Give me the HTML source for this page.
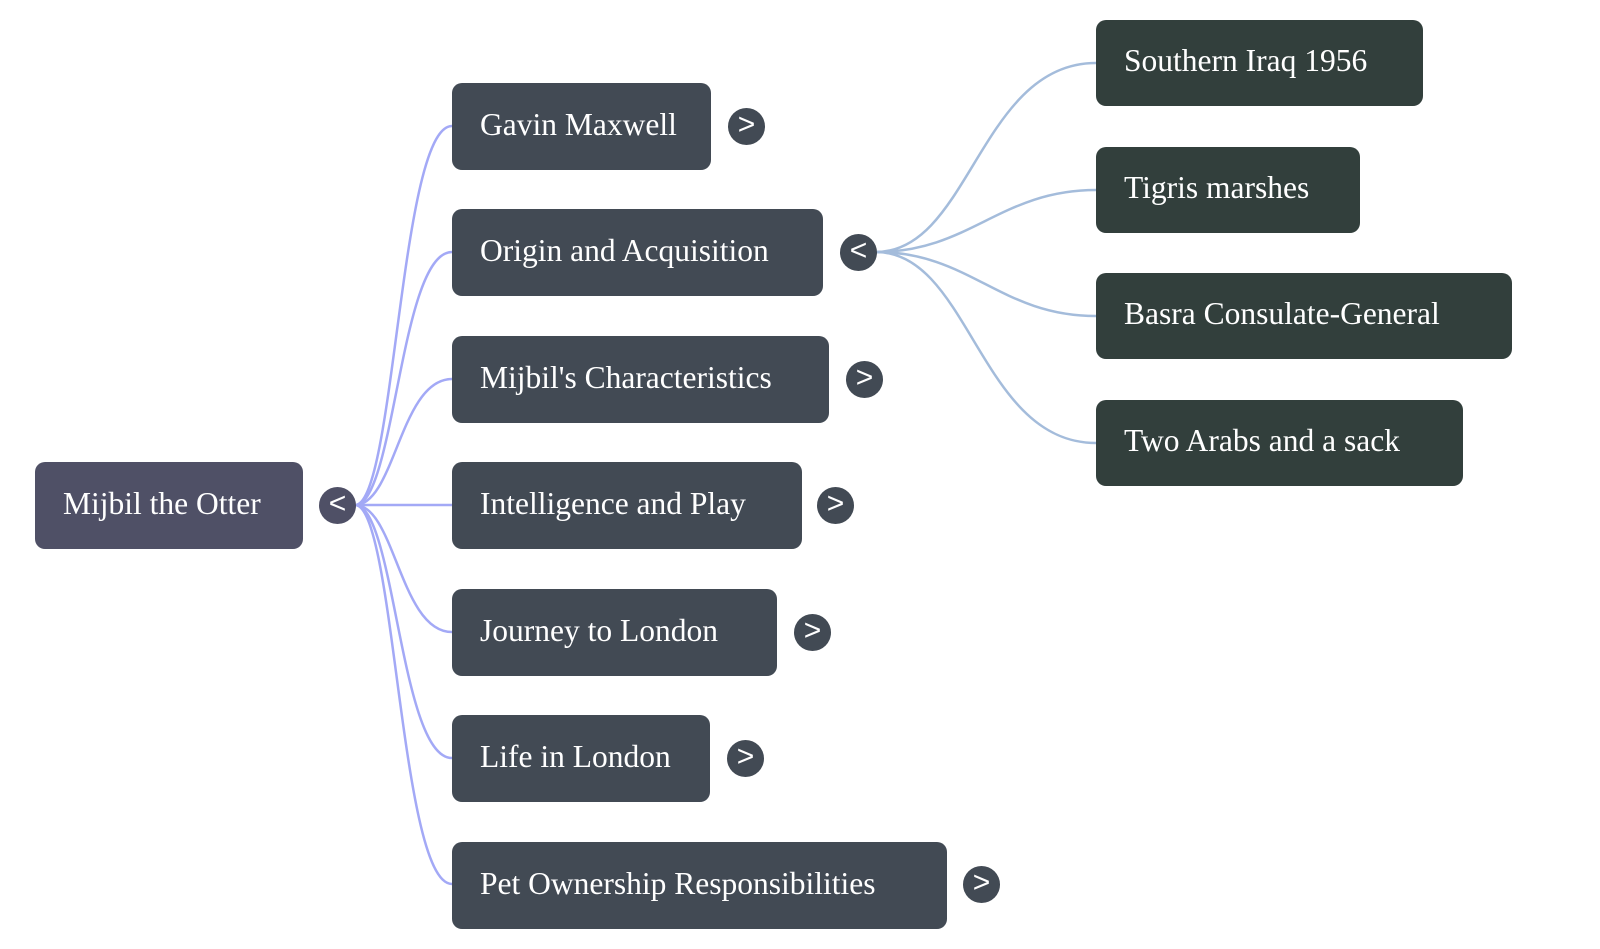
<!DOCTYPE html>
<html><head><meta charset="utf-8"><style>
body{margin:0;width:1600px;height:949px;background:#fff;overflow:hidden;font-family:"Liberation Serif",serif}
.n{position:absolute;border-radius:10px;color:#fff;font-size:31.5px;box-sizing:border-box;padding-left:28px;padding-bottom:4px;display:flex;align-items:center;white-space:nowrap}
.c{position:absolute;width:37px;height:37px;border-radius:50%;background:#424a54;color:#fff;font-family:"Liberation Sans",sans-serif;font-size:30px;display:flex;align-items:center;justify-content:center;line-height:1;padding-bottom:3px;box-sizing:border-box}
</style></head><body>
<svg width="1600" height="949" style="position:absolute;left:0;top:0" fill="none">
<g stroke="#a3a9f6" stroke-width="2.5">
<path d="M355,505 C395,505 400,126 452,126"/>
<path d="M355,505 C395,505 400,252 452,252"/>
<path d="M355,505 C395,505 400,379 452,379"/>
<path d="M355,505 L452,505"/>
<path d="M355,505 C395,505 400,632 452,632"/>
<path d="M355,505 C395,505 400,758 452,758"/>
<path d="M355,505 C395,505 400,884 452,884"/>
</g>
<g stroke="#a4bcdb" stroke-width="2.5">
<path d="M876,252 C970,252 980,63 1096,63"/>
<path d="M876,252 C970,252 1000,190 1096,190"/>
<path d="M876,252 C970,252 1000,316 1096,316"/>
<path d="M876,252 C970,252 980,443 1096,443"/>
</g>
</svg>
<div class="n" style="left:35px;top:462px;width:268px;height:87px;background:#4f5066">Mijbil the Otter</div>
<div class="c" style="left:319px;top:487px;background:#4f5066">&lt;</div>

<div class="n" style="left:452px;top:83px;width:259px;height:87px;background:#424a54">Gavin Maxwell</div>
<div class="c" style="left:728px;top:108px">&gt;</div>
<div class="n" style="left:452px;top:209px;width:371px;height:87px;background:#424a54">Origin and Acquisition</div>
<div class="c" style="left:840px;top:234px">&lt;</div>
<div class="n" style="left:452px;top:336px;width:377px;height:87px;background:#424a54">Mijbil's Characteristics</div>
<div class="c" style="left:846px;top:361px">&gt;</div>
<div class="n" style="left:452px;top:462px;width:350px;height:87px;background:#424a54">Intelligence and Play</div>
<div class="c" style="left:817px;top:487px">&gt;</div>
<div class="n" style="left:452px;top:589px;width:325px;height:87px;background:#424a54">Journey to London</div>
<div class="c" style="left:794px;top:614px">&gt;</div>
<div class="n" style="left:452px;top:715px;width:258px;height:87px;background:#424a54">Life in London</div>
<div class="c" style="left:727px;top:740px">&gt;</div>
<div class="n" style="left:452px;top:842px;width:495px;height:87px;background:#424a54">Pet Ownership Responsibilities</div>
<div class="c" style="left:963px;top:866px">&gt;</div>

<div class="n" style="left:1096px;top:20px;width:327px;height:86px;background:#323f3c">Southern Iraq 1956</div>
<div class="n" style="left:1096px;top:147px;width:264px;height:86px;background:#323f3c">Tigris marshes</div>
<div class="n" style="left:1096px;top:273px;width:416px;height:86px;background:#323f3c">Basra Consulate-General</div>
<div class="n" style="left:1096px;top:400px;width:367px;height:86px;background:#323f3c">Two Arabs and a sack</div>
</body></html>
